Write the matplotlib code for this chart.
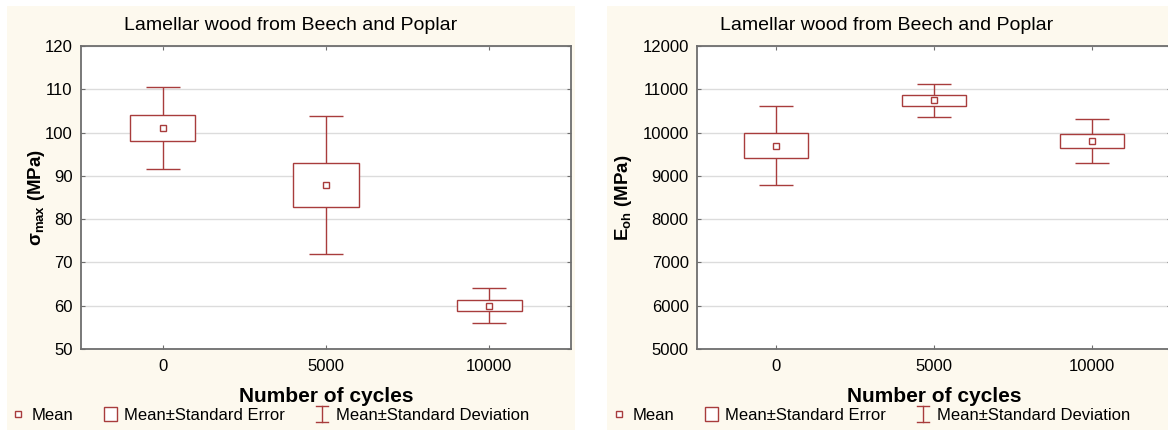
import matplotlib
matplotlib.use('Agg')
import matplotlib.pyplot as plt
from matplotlib.lines import Line2D
from matplotlib.patches import Rectangle, Patch
from matplotlib.legend_handler import HandlerBase

plt.rcParams['font.family'] = ['Liberation Sans', 'DejaVu Sans']
plt.rcParams['mathtext.fontset'] = 'custom'
plt.rcParams['mathtext.rm'] = 'Liberation Sans'
plt.rcParams['mathtext.bf'] = 'Liberation Sans:bold'

cycles = [0, 5000, 10000]

# left panel: sigma_max (MPa)
sig_mean = [101.0, 88.0, 60.0]
sig_se_lo = [98.1, 82.9, 58.8]
sig_se_hi = [104.1, 93.0, 61.3]
sig_sd_lo = [91.6, 72.0, 56.1]
sig_sd_hi = [110.6, 103.9, 64.0]

# right panel: E_oh (MPa)
e_mean = [9697, 10752, 9813]
e_se_lo = [9405, 10621, 9651]
e_se_hi = [9990, 10868, 9974]
e_sd_lo = [8781, 10366, 9304]
e_sd_hi = [10621, 11122, 10320]

title = 'Lamellar wood from Beech and Poplar'
red = '#A83C3C'
bg = '#FDF9EE'
spine_col = '#6E6E6E'

W, H = 1168, 430
fig = plt.figure(figsize=(W / 100, H / 100), dpi=100)
fig.patch.set_facecolor('white')

# beige panel backgrounds
fig.patches.append(Rectangle((7 / W, 0), 568 / W, 424 / H, transform=fig.transFigure,
                             facecolor=bg, edgecolor='none', zorder=-10))
fig.patches.append(Rectangle((607 / W, 0), 561 / W, 424 / H, transform=fig.transFigure,
                             facecolor=bg, edgecolor='none', zorder=-10))

ax1 = fig.add_axes([81 / W, 81 / H, 490 / W, 303 / H])
ax2 = fig.add_axes([697 / W, 81 / H, 474 / W, 303 / H])


class IBarHandler(HandlerBase):
    # legend key: vertical bar with two short caps
    def create_artists(self, legend, orig_handle, xdescent, ydescent,
                       width, height, fontsize, trans):
        cx = width / 2 - xdescent
        y0 = -ydescent - 0.1 * height
        y1 = -ydescent + 1.1 * height
        hw = 0.42 * width
        kw = dict(color=red, linewidth=1.0, transform=trans)
        return [Line2D([cx, cx], [y0, y1], **kw),
                Line2D([cx - hw, cx + hw], [y0, y0], **kw),
                Line2D([cx - hw, cx + hw], [y1, y1], **kw)]


def draw(ax, mean, se_lo, se_hi, sd_lo, sd_hi, ylim, yticks, ylabel, ylab_x):
    ax.set_facecolor('white')
    lo_err = [m - l for m, l in zip(mean, sd_lo)]
    hi_err = [h - m for m, h in zip(mean, sd_hi)]
    ax.errorbar(cycles, mean, yerr=[lo_err, hi_err], fmt='none', ecolor=red,
                elinewidth=1.0, capsize=12, capthick=1.0, zorder=2)
    heights = [h - l for l, h in zip(se_lo, se_hi)]
    ax.bar(cycles, heights, bottom=se_lo, width=2000, facecolor='white',
           edgecolor=red, linewidth=1.0, zorder=3)
    mk, = ax.plot(cycles, mean, ls='none', marker='s', ms=4, mfc='white',
                  mec=red, mew=1.0, zorder=4)
    ax.set_xlim(-2500, 12500)
    ax.set_ylim(*ylim)
    ax.set_xticks(cycles)
    ax.set_xticklabels([str(c) for c in cycles])
    ax.set_yticks(yticks)
    ax.yaxis.grid(True, color='#DCDCDC', linewidth=1.0)
    ax.set_axisbelow(True)
    ax.tick_params(axis='both', direction='in', length=3, width=0.8, color=spine_col,
                   labelsize=12, top=True, right=True)
    ax.tick_params(axis='x', pad=7)
    ax.tick_params(axis='y', pad=6)
    for s in ax.spines.values():
        s.set_color(spine_col)
        s.set_linewidth(1.3)
    ax.set_xlabel('Number of cycles', fontsize=15, fontweight='bold')
    ax.xaxis.set_label_coords(0.5, -0.125)
    ax.set_ylabel(ylabel, fontsize=13.5, fontweight='bold')
    ax.yaxis.set_label_coords(ylab_x, 0.5)
    return mk


mk1 = draw(ax1, sig_mean, sig_se_lo, sig_se_hi, sig_sd_lo, sig_sd_hi, (50, 120),
           [50, 60, 70, 80, 90, 100, 110, 120], 'σ$_{\\mathbf{max}}$ (MPa)', -0.07)
mk2 = draw(ax2, e_mean, e_se_lo, e_se_hi, e_sd_lo, e_sd_hi, (5000, 12000),
           [5000, 6000, 7000, 8000, 9000, 10000, 11000, 12000], 'E$_{\\mathbf{oh}}$ (MPa)', -0.133)

# titles centred on each beige panel
fig.text(291 / W, 1 - 25 / H, title, fontsize=14, ha='center', va='center')
fig.text(887 / W, 1 - 25 / H, title, fontsize=14, ha='center', va='center')

labels = ['Mean', 'Mean±Standard Error', 'Mean±Standard Deviation']
for ax, mk, x0 in [(ax1, mk1, 11), (ax2, mk2, 612)]:
    se_patch = Patch(facecolor='white', edgecolor=red, linewidth=1.0)
    sd_key = Line2D([], [], color=red)
    ax.legend([mk, se_patch, sd_key], labels, ncol=3, frameon=False,
              loc='center left', bbox_to_anchor=(x0 / W, 15 / H),
              bbox_transform=fig.transFigure, fontsize=12, borderpad=0,
              handlelength=0.8, handleheight=0.85, handletextpad=0.45,
              columnspacing=1.8, borderaxespad=0,
              handler_map={sd_key: IBarHandler()})

fig.savefig('out.png', dpi=100, facecolor='white')
